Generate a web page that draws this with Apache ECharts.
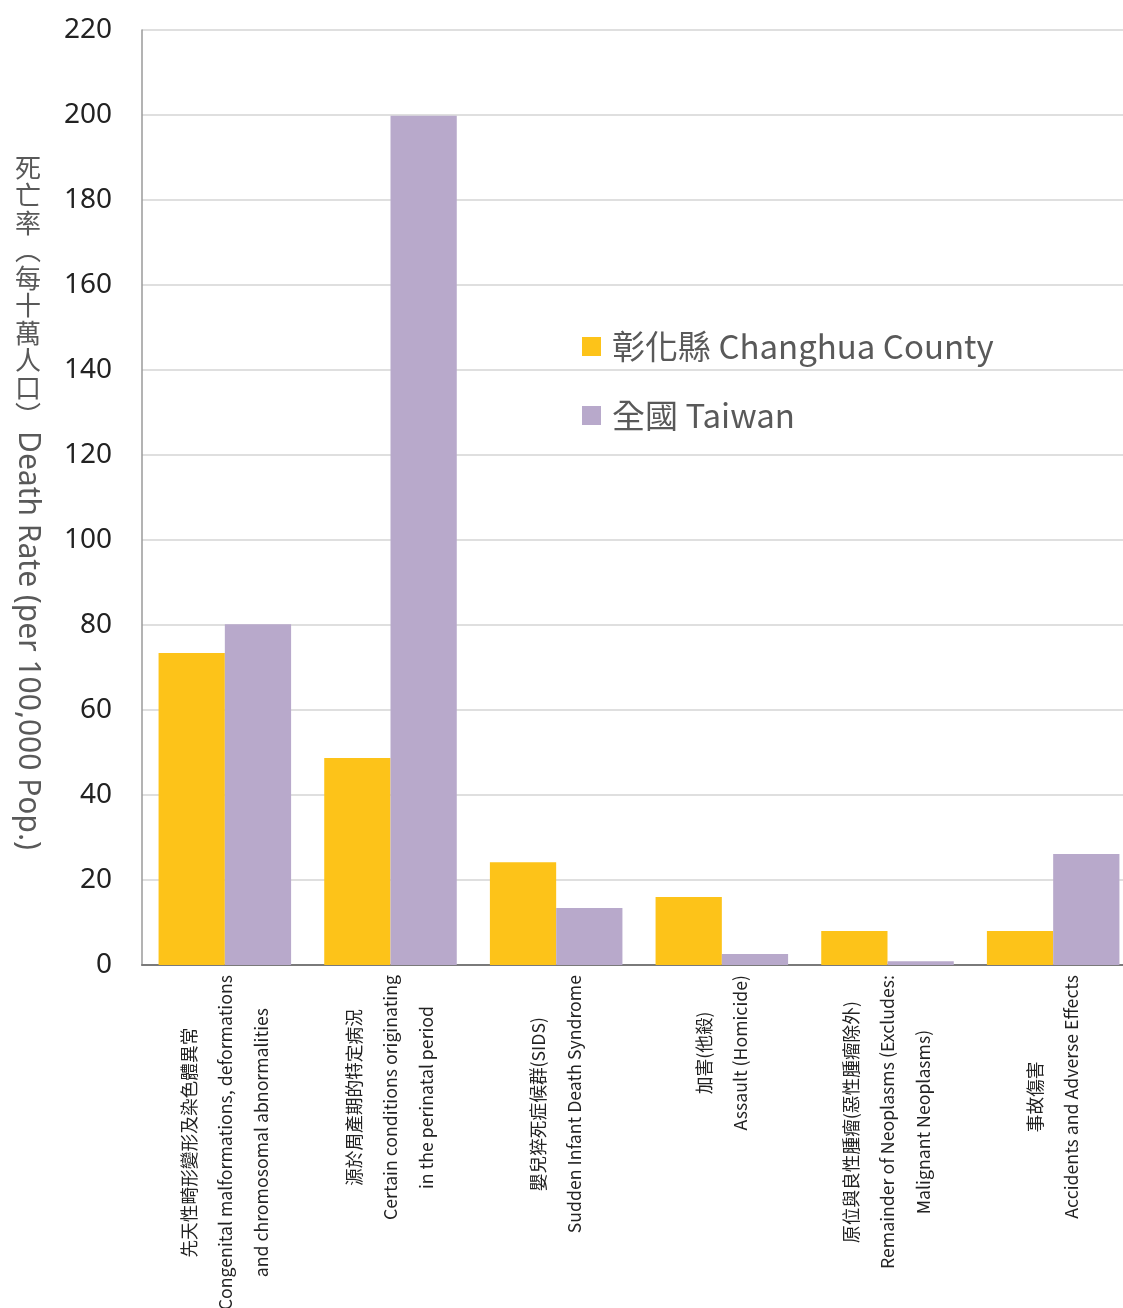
<!DOCTYPE html>
<html>
<head>
<meta charset="utf-8">
<script src="https://cdn.jsdelivr.net/npm/echarts@6/dist/echarts.min.js"></script>
<style>
html,body{margin:0;padding:0;background:#fff;}
#chart{width:1123px;height:1308px;}
</style>
</head>
<body>
<div id="chart"></div>
<script>
const categories = [
  '先天性畸形變形及染色體異常\nCongenital malformations, deformations\nand chromosomal abnormalities',
  '源於周產期的特定病況\nCertain conditions originating\nin the perinatal period',
  '嬰兒猝死症候群(SIDS)\nSudden Infant Death Syndrome',
  '加害(他殺)\nAssault (Homicide)',
  '原位與良性腫瘤(惡性腫瘤除外)\nRemainder of Neoplasms (Excludes:\nMalignant Neoplasms)',
  '事故傷害\nAccidents and Adverse Effects'
];
const changhua = [73.4, 48.7, 24.2, 16.0, 8.0, 8.0];
const taiwan = [80.2, 199.8, 13.4, 2.6, 0.9, 26.1];
const seriesNames = ['彰化縣 Changhua County', '全國 Taiwan'];
const yAxisNameZh = ['死', '亡', '率', '︵', '每', '十', '萬', '人', '口', '︶'];
const yAxisNameEn = 'Death Rate (per 100,000 Pop.)';

const chart = echarts.init(document.getElementById('chart'), null, {renderer: 'canvas'});
const labelFont = "'Noto Sans CJK TC', 'Noto Sans', sans-serif";
chart.setOption({
  animation: false,
  backgroundColor: '#ffffff',
  grid: {left: 142, top: 30, right: -13, bottom: 343, containLabel: false, outerBoundsMode: 'none'},
  legend: {
    orient: 'vertical',
    left: 577,
    top: 325,
    itemWidth: 19,
    itemHeight: 19,
    itemGap: 36,
    icon: 'rect',
    textStyle: {fontSize: 33, color: '#595959', padding: [0, 0, 0, 6], fontFamily: "'Noto Sans CJK TC', 'Noto Sans', sans-serif"},
    data: seriesNames
  },
  graphic: [
    {
      type: 'text',
      left: 15,
      top: 154,
      style: {
        text: yAxisNameZh.join('\n'),
        fontSize: 26,
        lineHeight: 27.5,
        fill: '#595959',
        align: 'center',
        fontFamily: "'Noto Sans CJK TC', sans-serif"
      }
    },
    {
      type: 'text',
      x: 28,
      y: 431,
      rotation: -Math.PI / 2,
      style: {
        text: yAxisNameEn,
        fontSize: 30,
        fill: '#595959',
        align: 'left',
        verticalAlign: 'middle',
        fontFamily: "'Noto Sans', sans-serif"
      }
    }
  ],
  xAxis: {
    type: 'category',
    data: categories,
    axisLine: {show: true, lineStyle: {color: '#7a7a7a', width: 2}},
    axisTick: {show: false},
    axisLabel: {
      interval: 0,
      rotate: 90,
      margin: 10,
      color: '#222',
      formatter: function (v) {
        return v.split('\n').map(function (s) { return '{c|' + s + '}'; }).join('\n');
      },
      rich: {
        c: {align: 'center', fontSize: 17.7, lineHeight: 36, color: '#222', fontFamily: labelFont}
      }
    }
  },
  yAxis: {
    type: 'value',
    min: 0,
    max: 220,
    interval: 20,
    axisLine: {show: true, lineStyle: {color: '#9a9a9a', width: 1.5}},
    axisTick: {show: false},
    axisLabel: {fontSize: 28, color: '#222', margin: 30, fontFamily: "'Noto Sans', sans-serif"},
    splitLine: {show: true, lineStyle: {color: '#d4d4d4', width: 1.5}}
  },
  series: [
    {
      name: seriesNames[0],
      type: 'bar',
      data: changhua,
      barGap: '0%',
      barCategoryGap: '20%',
      itemStyle: {color: '#FDC319'}
    },
    {
      name: seriesNames[1],
      type: 'bar',
      data: taiwan,
      barGap: '0%',
      barCategoryGap: '20%',
      itemStyle: {color: '#B8A9CB'}
    }
  ]
});
</script>
</body>
</html>
